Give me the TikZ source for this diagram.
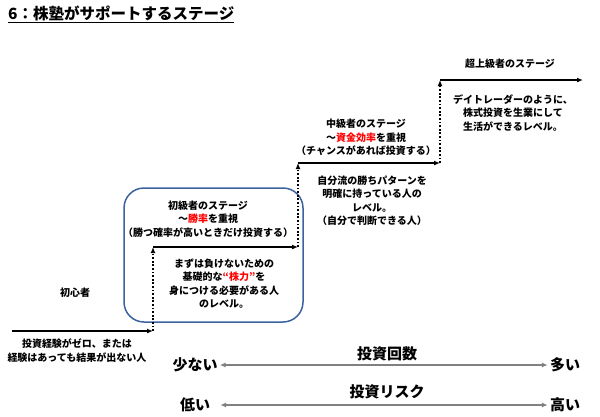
\documentclass[tikz,border=0pt]{standalone}
\usepackage{fontspec}
\setmainfont{Noto Sans CJK JP}
\usetikzlibrary{arrows.meta}
\definecolor{boxblue}{RGB}{58,99,158}
\definecolor{axisgray}{RGB}{128,128,128}

\begin{document}
\begin{tikzpicture}[x=1pt,y=-1pt,
	txt/.style={align=center, inner sep=0pt, font=\fontsize{10}{13.5}\selectfont\bfseries},
	bigtxt/.style={inner sep=0pt, font=\fontsize{15}{17}\selectfont\bfseries},
	stepline/.style={line width=1.4pt, -{Latex[length=6pt,width=5pt]}},
	dotline/.style={line width=1.8pt, dash pattern=on 1.8pt off 1.8pt, -{Latex[length=6pt,width=5pt]}},
	axisline/.style={axisgray, line width=1.4pt, {Latex[length=6pt,width=5pt]}-{Latex[length=6pt,width=5pt]}}]
			%%%%% START %%%%%
			
			\useasboundingbox (0, 0) rectangle (600, 416);
			
			\node[anchor=west, inner sep=0pt, font=\fontsize{15.5}{18}\selectfont\bfseries] (title) at (8, 14) {\underline{6：株塾がサポートするステージ}};
			
			\draw[boxblue, line width=1.5pt, rounded corners=20pt] (124, 188) rectangle (303, 322);
			
			\coordinate (s0) at (12, 331);
			\coordinate (s1) at (153, 331);
			\coordinate (s2) at (153, 247);
			\coordinate (s3) at (298, 247);
			\coordinate (s4) at (298, 163);
			\coordinate (s5) at (440, 163);
			\coordinate (s6) at (440, 80);
			\coordinate (s7) at (583, 80);
			
			\draw[stepline] (s0) -- (s1);
			\draw[dotline] (s1) -- (s2);
			\draw[stepline] (s2) -- (s3);
			\draw[dotline] (s3) -- (s4);
			\draw[stepline] (s4) -- (s5);
			\draw[dotline] (s5) -- (s6);
			\draw[stepline] (s6) -- (s7);
			
			\node[txt] (beginner) at (75, 293) {初心者};
			\node[txt] (beginnerinfo) at (77, 350.5) {投資経験がゼロ、または\\経験はあっても結果が出ない人};
			
			\node[txt] (novice) at (208, 219) {初級者のステージ\\〜\textcolor{red}{勝率}を重視\\（勝つ確率が高いときだけ投資する）};
			\node[txt] (noviceinfo) at (224, 283.5) {まずは負けないための\\基礎的な\textcolor{red}{“株力”}を\\身につける必要がある人\\のレベル。};
			
			\node[txt] (middle) at (366, 137.5) {中級者のステージ\\〜\textcolor{red}{資金効率}を重視\\（チャンスがあれば投資する）};
			\node[txt] (middleinfo) at (372, 200.5) {自分流の勝ちパターンを\\明確に持っている人の\\レベル。\\（自分で判断できる人）};
			
			\node[txt] (expert) at (510, 64) {超上級者のステージ};
			\node[txt] (expertinfo) at (513, 113) {デイトレーダーのように、\\株式投資を生業にして\\生活ができるレベル。};
			
			\node[bigtxt] (count) at (387, 354) {投資回数};
			\node[bigtxt] (few) at (195, 365) {少ない};
			\node[bigtxt] (many) at (565, 365) {多い};
			\draw[axisline] ([xshift=2pt]few.east) -- ([xshift=-2pt]many.west);
			
			\node[bigtxt] (risk) at (387, 392) {投資リスク};
			\node[bigtxt] (low) at (195, 405) {低い};
			\node[bigtxt] (high) at (565, 405) {高い};
			\draw[axisline] ([xshift=10pt]low.east) -- ([xshift=-2pt]high.west);
			
			%%%%% END %%%%%
\end{tikzpicture}
\end{document}
